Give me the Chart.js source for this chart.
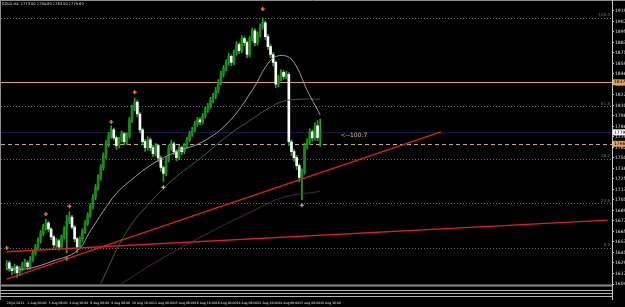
<!DOCTYPE html>
<html><head><meta charset="utf-8">
<script src="https://cdn.jsdelivr.net/npm/chart.js@4"></script>
<style>html,body{margin:0;padding:0;background:#000;overflow:hidden}canvas{display:block}</style>
</head><body>
<canvas id="c" width="625" height="307"></canvas>
<script>
// ---- data (GOLD, H4) ----
const titleText = "GOLD,H4  1773.00 1794.80 1763.50 1779.60";
const xTickIdx = [0,8,16,24,32,40,48,56,64,72,80,88,96,104,112,120];
const xTickLabels = ["29 Jul 2011","2 Aug 00:00","3 Aug 08:00","4 Aug 16:00","8 Aug 00:00","9 Aug 08:00","10 Aug 16:00","12 Aug 00:00","15 Aug 08:00","16 Aug 16:00","18 Aug 00:00","19 Aug 08:00","22 Aug 16:00","24 Aug 00:00","25 Aug 08:00","26 Aug 16:00"];
const yTicks = [1919.50,1907.40,1895.30,1883.20,1871.10,1859.00,1846.90,1834.80,1822.70,1810.60,1798.50,1786.40,1774.30,1762.20,1750.10,1738.00,1725.90,1713.80,1701.70,1689.60,1677.50,1665.40,1653.30,1641.20,1629.10,1617.00,1604.90];

const open = [1625.0,1629.4,1622.6,1620.3,1624.8,1618.0,1622.6,1627.1,1629.4,1624.8,1633.9,1640.8,1647.6,1654.5,1663.6,1670.5,1675.0,1668.2,1659.1,1650.0,1654.5,1647.6,1659.1,1668.2,1677.4,1681.9,1670.5,1656.8,1647.6,1656.8,1665.9,1675.0,1684.2,1694.5,1704.8,1716.2,1727.6,1739.1,1752.7,1766.3,1775.6,1782.4,1773.3,1764.2,1771.0,1777.9,1768.8,1775.6,1793.9,1807.6,1814.4,1800.7,1782.4,1768.8,1762.0,1771.0,1762.0,1755.1,1764.2,1750.0,1739.1,1732.2,1748.2,1762.0,1766.3,1757.3,1750.5,1761.9,1757.3,1764.2,1771.0,1777.9,1782.4,1789.3,1793.9,1791.6,1798.5,1805.3,1809.9,1816.7,1821.3,1828.1,1837.3,1846.4,1853.2,1860.1,1867.0,1860.1,1871.5,1880.6,1873.8,1887.5,1882.9,1869.2,1887.5,1896.6,1882.9,1892.1,1901.2,1905.8,1889.8,1878.4,1869.2,1860.1,1835.0,1841.8,1848.7,1844.1,1846.4,1768.7,1757.3,1750.5,1741.3,1727.6,1734.5,1764.2,1768.8,1780.2,1773.3,1787.0,1773.0];
const high = [1632.0,1631.5,1625.0,1627.5,1626.5,1625.0,1630.0,1633.5,1632.0,1636.5,1644.0,1650.5,1658.0,1666.5,1673.5,1679.7,1677.0,1670.0,1661.0,1657.5,1656.5,1661.5,1671.0,1684.0,1688.0,1684.0,1672.5,1659.0,1659.5,1668.5,1678.0,1687.0,1697.5,1708.0,1719.5,1731.0,1742.5,1756.0,1770.0,1779.5,1787.0,1784.5,1775.5,1774.0,1781.0,1780.0,1779.0,1797.0,1811.0,1819.0,1816.5,1803.0,1784.5,1771.5,1774.5,1773.0,1764.5,1767.0,1766.0,1752.5,1741.0,1751.0,1765.0,1770.0,1768.5,1759.5,1764.5,1764.0,1767.0,1774.0,1781.0,1785.5,1792.5,1797.0,1796.5,1801.5,1808.5,1813.0,1820.0,1824.5,1831.5,1840.5,1850.0,1856.5,1863.5,1870.5,1869.0,1874.5,1884.0,1883.0,1891.0,1890.0,1885.0,1890.5,1900.0,1899.0,1895.5,1904.5,1911.5,1908.0,1892.5,1881.0,1871.5,1862.0,1845.0,1852.0,1851.0,1850.0,1848.5,1771.0,1760.0,1753.0,1743.5,1737.5,1767.0,1772.5,1783.5,1782.5,1790.5,1793.0,1794.8];
const low = [1621.0,1619.5,1615.5,1617.0,1612.5,1614.5,1620.0,1624.0,1621.5,1622.0,1631.0,1638.0,1645.0,1652.0,1660.5,1667.0,1665.0,1656.0,1646.5,1647.0,1644.0,1645.5,1656.5,1641.0,1674.5,1668.0,1653.5,1640.8,1645.0,1654.0,1663.0,1672.5,1681.5,1691.5,1702.0,1713.0,1724.5,1736.0,1749.5,1763.0,1772.5,1770.5,1760.0,1761.5,1768.5,1765.0,1766.0,1773.0,1791.0,1804.5,1797.5,1779.0,1765.0,1757.5,1759.0,1758.5,1751.5,1752.0,1746.0,1735.0,1723.0,1729.5,1745.5,1759.0,1754.0,1747.0,1748.0,1754.0,1755.0,1761.5,1768.5,1775.0,1780.0,1786.5,1788.0,1789.0,1796.0,1802.5,1807.0,1813.5,1818.5,1825.0,1834.5,1843.5,1850.5,1857.0,1856.5,1857.5,1868.5,1870.5,1871.0,1879.5,1865.5,1866.5,1885.0,1879.5,1880.0,1889.5,1898.5,1886.5,1875.0,1865.5,1856.0,1831.0,1832.0,1839.0,1840.5,1841.5,1764.5,1753.0,1746.5,1737.0,1722.5,1702.0,1731.5,1760.5,1765.5,1769.5,1770.5,1770.0,1763.5];
const close = [1629.4,1622.6,1620.3,1624.8,1618.0,1622.6,1627.1,1629.4,1624.8,1633.9,1640.8,1647.6,1654.5,1663.6,1670.5,1675.0,1668.2,1659.1,1650.0,1654.5,1647.6,1659.1,1668.2,1677.4,1681.9,1670.5,1656.8,1647.6,1656.8,1665.9,1675.0,1684.2,1694.5,1704.8,1716.2,1727.6,1739.1,1752.7,1766.3,1775.6,1782.4,1773.3,1764.2,1771.0,1777.9,1768.8,1775.6,1793.9,1807.6,1814.4,1800.7,1782.4,1768.8,1762.0,1771.0,1762.0,1755.1,1764.2,1750.0,1739.1,1732.2,1748.2,1762.0,1766.3,1757.3,1750.5,1761.9,1757.3,1764.2,1771.0,1777.9,1782.4,1789.3,1793.9,1791.6,1798.5,1805.3,1809.9,1816.7,1821.3,1828.1,1837.3,1846.4,1853.2,1860.1,1867.0,1860.1,1871.5,1880.6,1873.8,1887.5,1882.9,1869.2,1887.5,1896.6,1882.9,1892.1,1901.2,1905.8,1889.8,1878.4,1869.2,1860.1,1835.0,1841.8,1848.7,1844.1,1846.4,1768.7,1757.3,1750.5,1741.3,1727.6,1734.5,1764.2,1768.8,1780.2,1773.3,1787.0,1773.5,1779.6];

// moving averages (bar index, price)
const maFastIdx = [0,8,18,27,32,37,42,47,56,65,75,85,94,101,106,110,115,120];
const maFastVal = [1622.5,1622.5,1631.7,1643.1,1665.9,1688.8,1709.3,1723.0,1743.6,1757.3,1768.7,1791.6,1828.1,1862.4,1868.1,1860.1,1828.1,1799.6];
const maMidIdx = [36,46,56,65,75,84,94,101,106,113,120];
const maMidVal = [1605.4,1665.9,1702.5,1728.7,1751.6,1774.4,1795.0,1808.7,1815.5,1817.8,1817.8];
const maSlowIdx = [44,56,75,94,106,120];
const maSlowVal = [1605.4,1628.3,1660.2,1688.8,1704.8,1711.6];

// fractals
const fracUpIdx = [0,15,24,40,49,98];
const fracUpVal = [1646.5,1685.4,1694.5,1791.6,1825.8,1921.7];
const fracDnIdx = [23,60,113];
const fracDnVal = [1634.0,1716.2,1695.6];

// trend lines
const trend1Idx = [0,166.2];
const trend1Val = [1610.5,1780.1];
const trend2Idx = [0,230.1];
const trend2Val = [1642.0,1678.5];

// horizontal levels
const fibLevels = [1911.5,1809.8,1749.3,1697.9,1646.5];
const fibLabels = ["100.0","61.8","38.2","23.6","0.0"];
const orangeLevel = 1837.2;
const dashedLevel = 1766.4;
const bidLevel = 1779.6;
const noteText = "<--100:7";
const notePrice = 1775.6;
const noteIdx = 127.8;

// ---- build datasets ----
const UP = '#178c17', DOWN = '#ffffff', WICK = '#22a522';
const idx = close.map((_, i) => i);
const wickData = idx.map(i => ({x: i, y: [low[i], high[i]]}));
const bodyData = idx.map(i => ({x: i, y: [open[i], close[i]]}));
const bodyColors = idx.map(i => close[i] >= open[i] ? UP : DOWN);
const pts = (a, b) => a.map((v, k) => ({x: v, y: b[k]}));

const decor = {
  id: 'decor',
  beforeDatasetsDraw(chart) {
    const {ctx, chartArea: ca, scales: {y}} = chart;
    ctx.save();
    const hline = (p, color, dash, w) => {
      const py = Math.round(y.getPixelForValue(p)) + 0.5;
      ctx.beginPath(); ctx.strokeStyle = color; ctx.lineWidth = w || 1;
      ctx.setLineDash(dash || []);
      ctx.moveTo(1, py); ctx.lineTo(ca.right, py); ctx.stroke();
    };
    fibLevels.forEach(p => hline(p, '#6c6c6c', [1, 2]));
    hline(bidLevel, '#16164c');
    hline(orangeLevel, '#e6a15c');
    hline(dashedLevel, '#c8a88c', [4, 3]);
    ctx.restore();
  },
  afterDraw(chart) {
    const {ctx, chartArea: ca, scales: {x, y}} = chart;
    ctx.save();
    ctx.setLineDash([]);
    ctx.strokeStyle = '#8c8c8c'; ctx.lineWidth = 1;
    ctx.beginPath(); ctx.moveTo(0, 0.5); ctx.lineTo(625, 0.5); ctx.stroke();
    ctx.beginPath(); ctx.moveTo(0.5, 0); ctx.lineTo(0.5, 300); ctx.stroke();
    ctx.strokeStyle = '#c8c8c8';
    ctx.beginPath(); ctx.moveTo(ca.right + 0.5, 0); ctx.lineTo(ca.right + 0.5, 300); ctx.stroke();
    ctx.strokeStyle = '#8c8c8c'; ctx.lineWidth = 2;
    ctx.beginPath(); ctx.moveTo(0, 285.5); ctx.lineTo(ca.right, 285.5); ctx.stroke();
    ctx.strokeStyle = '#b4b4b4'; ctx.lineWidth = 1;
    [290.5, 293.5, 296.5].forEach(py => { ctx.beginPath(); ctx.moveTo(0, py); ctx.lineTo(ca.right, py); ctx.stroke(); });
    ctx.font = '4px "DejaVu Sans"'; ctx.fillStyle = '#5f7f4f'; ctx.textAlign = 'right'; ctx.textBaseline = 'bottom';
    fibLevels.forEach((p, k) => ctx.fillText(fibLabels[k], ca.right - 2, y.getPixelForValue(p) - 0.5));
    const box = (p, bg, fg) => {
      const py = y.getPixelForValue(p);
      ctx.fillStyle = bg; ctx.fillRect(ca.right + 1, py - 3, 13, 6);
      ctx.fillStyle = fg; ctx.font = '4.5px "DejaVu Sans"'; ctx.textAlign = 'left'; ctx.textBaseline = 'middle';
      ctx.fillText(p.toFixed(2), ca.right + 2, py);
    };
    box(orangeLevel, '#e6a15c', '#000');
    box(bidLevel, '#ffffff', '#000');
    box(dashedLevel, '#e6a15c', '#000');
    ctx.font = '3.6px "DejaVu Sans"'; ctx.fillStyle = '#dcdcdc'; ctx.textAlign = 'left'; ctx.textBaseline = 'top';
    ctx.fillText(titleText, 2, 2.5);
    ctx.font = '6px "DejaVu Sans"'; ctx.fillStyle = '#d8c070'; ctx.textBaseline = 'middle';
    ctx.fillText(noteText, x.getPixelForValue(noteIdx), y.getPixelForValue(notePrice));
    ctx.restore();
  }
};

new Chart(document.getElementById('c'), {
  type: 'bar',
  data: {
    datasets: [
      {type: 'line', data: pts(trend1Idx, trend1Val), borderColor: '#e01e1e', borderWidth: 1.4, pointRadius: 0, order: 0},
      {type: 'line', data: pts(trend2Idx, trend2Val), borderColor: '#e01e1e', borderWidth: 1.4, pointRadius: 0, order: 0},
      {type: 'line', data: pts(fracUpIdx, fracUpVal), showLine: false, pointStyle: 'cross', pointRadius: 2, borderColor: '#e8743a', borderWidth: 1.4, order: 0},
      {type: 'line', data: pts(fracDnIdx, fracDnVal), showLine: false, pointStyle: 'cross', pointRadius: 2, borderColor: '#cdbb95', borderWidth: 1.2, order: 0},
      {type: 'line', data: pts(maFastIdx, maFastVal), borderColor: '#9c9c9c', borderWidth: 1, pointRadius: 0, tension: 0.4, order: 1},
      {type: 'line', data: pts(maMidIdx, maMidVal), borderColor: '#35603a', borderWidth: 1, pointRadius: 0, tension: 0.4, order: 1},
      {type: 'line', data: pts(maSlowIdx, maSlowVal), borderColor: '#4e2250', borderWidth: 1, pointRadius: 0, tension: 0.4, order: 1},
      {data: bodyData, backgroundColor: bodyColors, barThickness: 2, minBarLength: 1, grouped: false, order: 3},
      {data: wickData, backgroundColor: WICK, barThickness: 1, grouped: false, order: 4}
    ]
  },
  options: {
    responsive: false, animation: false, devicePixelRatio: 1,
    plugins: {legend: {display: false}, tooltip: {enabled: false}, title: {display: false}},
    layout: {padding: {left: 2, top: 3, right: 0, bottom: 0}},
    scales: {
      x: {
        type: 'linear', min: -0.495, max: 231.7, offset: false,
        grid: {display: false, drawTicks: false, offset: false}, border: {display: false},
        afterBuildTicks: s => { s.ticks = xTickIdx.map(v => ({value: v})); },
        afterFit: s => { s.height = 23; s.paddingLeft = 0; s.paddingRight = 0; },
        ticks: {
          autoSkip: false, maxRotation: 0, align: 'start', padding: 17.5,
          color: '#e0e0e0', font: {size: 3.1, family: 'DejaVu Sans'},
          callback: v => xTickLabels[xTickIdx.indexOf(v)] || ''
        }
      },
      y: {
        position: 'right', min: 1604.9, max: 1925.8,
        grid: {display: true, drawOnChartArea: false, drawTicks: true, tickLength: 2, color: '#c8c8c8'},
        border: {display: false},
        afterBuildTicks: s => { s.ticks = yTicks.map(v => ({value: v})); },
        afterFit: s => { s.width = 13; s.paddingTop = 0; s.paddingBottom = 0; },
        ticks: {
          padding: 1, color: '#e0e0e0', font: {size: 4.5, family: 'DejaVu Sans'},
          callback: v => Number(v).toFixed(2)
        }
      }
    }
  },
  plugins: [decor]
});
</script>
</body></html>
